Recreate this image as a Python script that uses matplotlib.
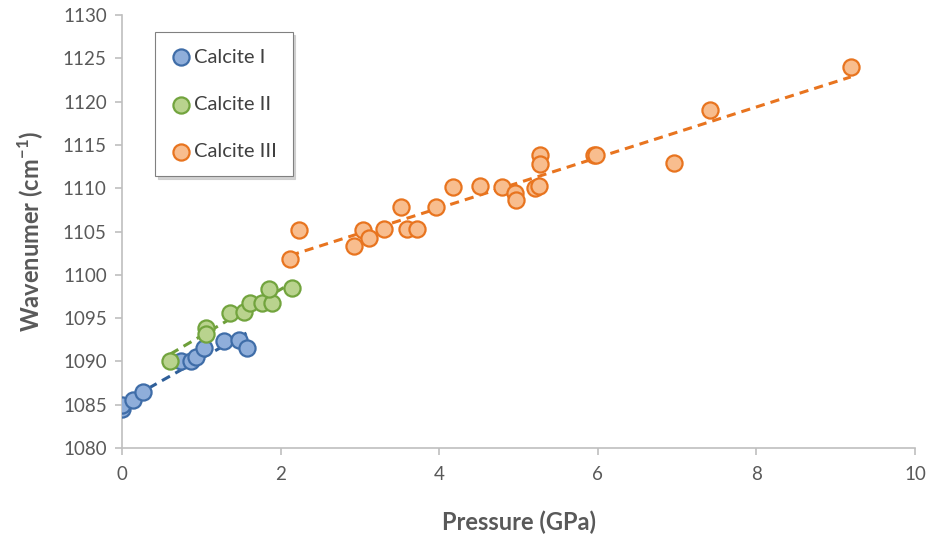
import numpy as np
import matplotlib
matplotlib.use("Agg")
import matplotlib.pyplot as plt

plt.rcParams['font.family'] = ['Lato', 'DejaVu Sans']
plt.rcParams['mathtext.fontset'] = 'custom'
plt.rcParams['mathtext.rm'] = 'Lato'
plt.rcParams['mathtext.bf'] = 'Lato:bold'

# Calcite I
p1 = [0.00, 0.00, 0.14, 0.27, 0.75, 0.87, 0.93, 1.04, 1.28, 1.48, 1.57]
w1 = [1084.5, 1085.0, 1085.5, 1086.5, 1090.0, 1090.0, 1090.5, 1091.5, 1092.4, 1092.5, 1091.5]
# Calcite II
p2 = [0.61, 1.06, 1.06, 1.36, 1.54, 1.62, 1.76, 1.89, 1.85, 2.14]
w2 = [1090.0, 1093.9, 1093.2, 1095.6, 1095.7, 1096.8, 1096.8, 1096.8, 1098.4, 1098.5]
# Calcite III
p3 = [2.12, 2.23, 2.92, 3.04, 3.12, 3.31, 3.52, 3.59, 3.72, 3.96, 4.18, 4.51, 4.79,
      4.95, 4.97, 5.21, 5.26, 5.27, 5.27, 5.95, 5.98, 6.96, 7.42, 9.19]
w3 = [1101.8, 1105.2, 1103.3, 1105.2, 1104.3, 1105.3, 1107.8, 1105.3, 1105.3, 1107.8,
      1110.1, 1110.2, 1110.1, 1109.5, 1108.6, 1110.0, 1110.2, 1113.8, 1112.8, 1113.8,
      1113.8, 1112.9, 1119.0, 1124.0]

labels = ["Calcite I", "Calcite II", "Calcite III"]
fills = ["#8FAEDA", "#B9D38E", "#F8BD8E"]
edges = ["#3F6DA8", "#72A43E", "#E8741F"]
lines = ["#2F5F99", "#6E9F3A", "#E8741F"]

fig = plt.figure(figsize=(9.3, 5.4), dpi=100)
ax = fig.add_axes([122/930, 1-448/540, (915-122)/930, (448-15)/540])

series = [(p1, w1), (p2, w2), (p3, w3)]
for (x, y), lc in zip(series, lines):
    x = np.array(x); y = np.array(y)
    k, b = np.polyfit(x, y, 1)
    xs = np.array([x.min(), x.max()])
    ax.plot(xs, k*xs + b, ls=(0, (3, 2)), color=lc, lw=2.2, zorder=3)
for (x, y), lab, fc, ec in zip(series, labels, fills, edges):
    ax.scatter(x, y, s=135, facecolor=fc, edgecolor=ec, linewidth=1.6, zorder=4, label=lab)

ax.set_xlim(0, 10)
ax.set_ylim(1080, 1130)
ax.set_xticks(range(0, 11, 2))
ax.set_yticks(range(1080, 1131, 5))
for s in ['top', 'right']:
    ax.spines[s].set_visible(False)
for s in ['left', 'bottom']:
    ax.spines[s].set_color('#BFBFBF')
    ax.spines[s].set_linewidth(1.2)
ax.tick_params(axis='both', colors='#BFBFBF', labelcolor='#595959', labelsize=13.5,
               length=5, width=1.2, direction='out')
ax.tick_params(axis='y', pad=6)
ax.tick_params(axis='x', pad=8)

ax.set_xlabel("Pressure (GPa)", fontsize=17, fontweight='bold', color='#595959', labelpad=20)
ax.set_ylabel("Wavenumer (cm$^{\\mathbf{-1}}$)", fontsize=17, fontweight='bold',
              color='#595959', labelpad=12)

leg = ax.legend(loc='upper left', bbox_to_anchor=(0.042, 0.96), frameon=True,
                fancybox=False, shadow={'color': '#c8c8c8', 'alpha': 0.8},
                fontsize=14.5, labelspacing=1.5,
                handletextpad=0.1, borderpad=0.8, handlelength=1.0, borderaxespad=0)
leg.get_frame().set_edgecolor('#808080')
leg.get_frame().set_linewidth(0.8)
for t in leg.get_texts():
    t.set_color('#404040')

fig.savefig("out.png", dpi=100)
